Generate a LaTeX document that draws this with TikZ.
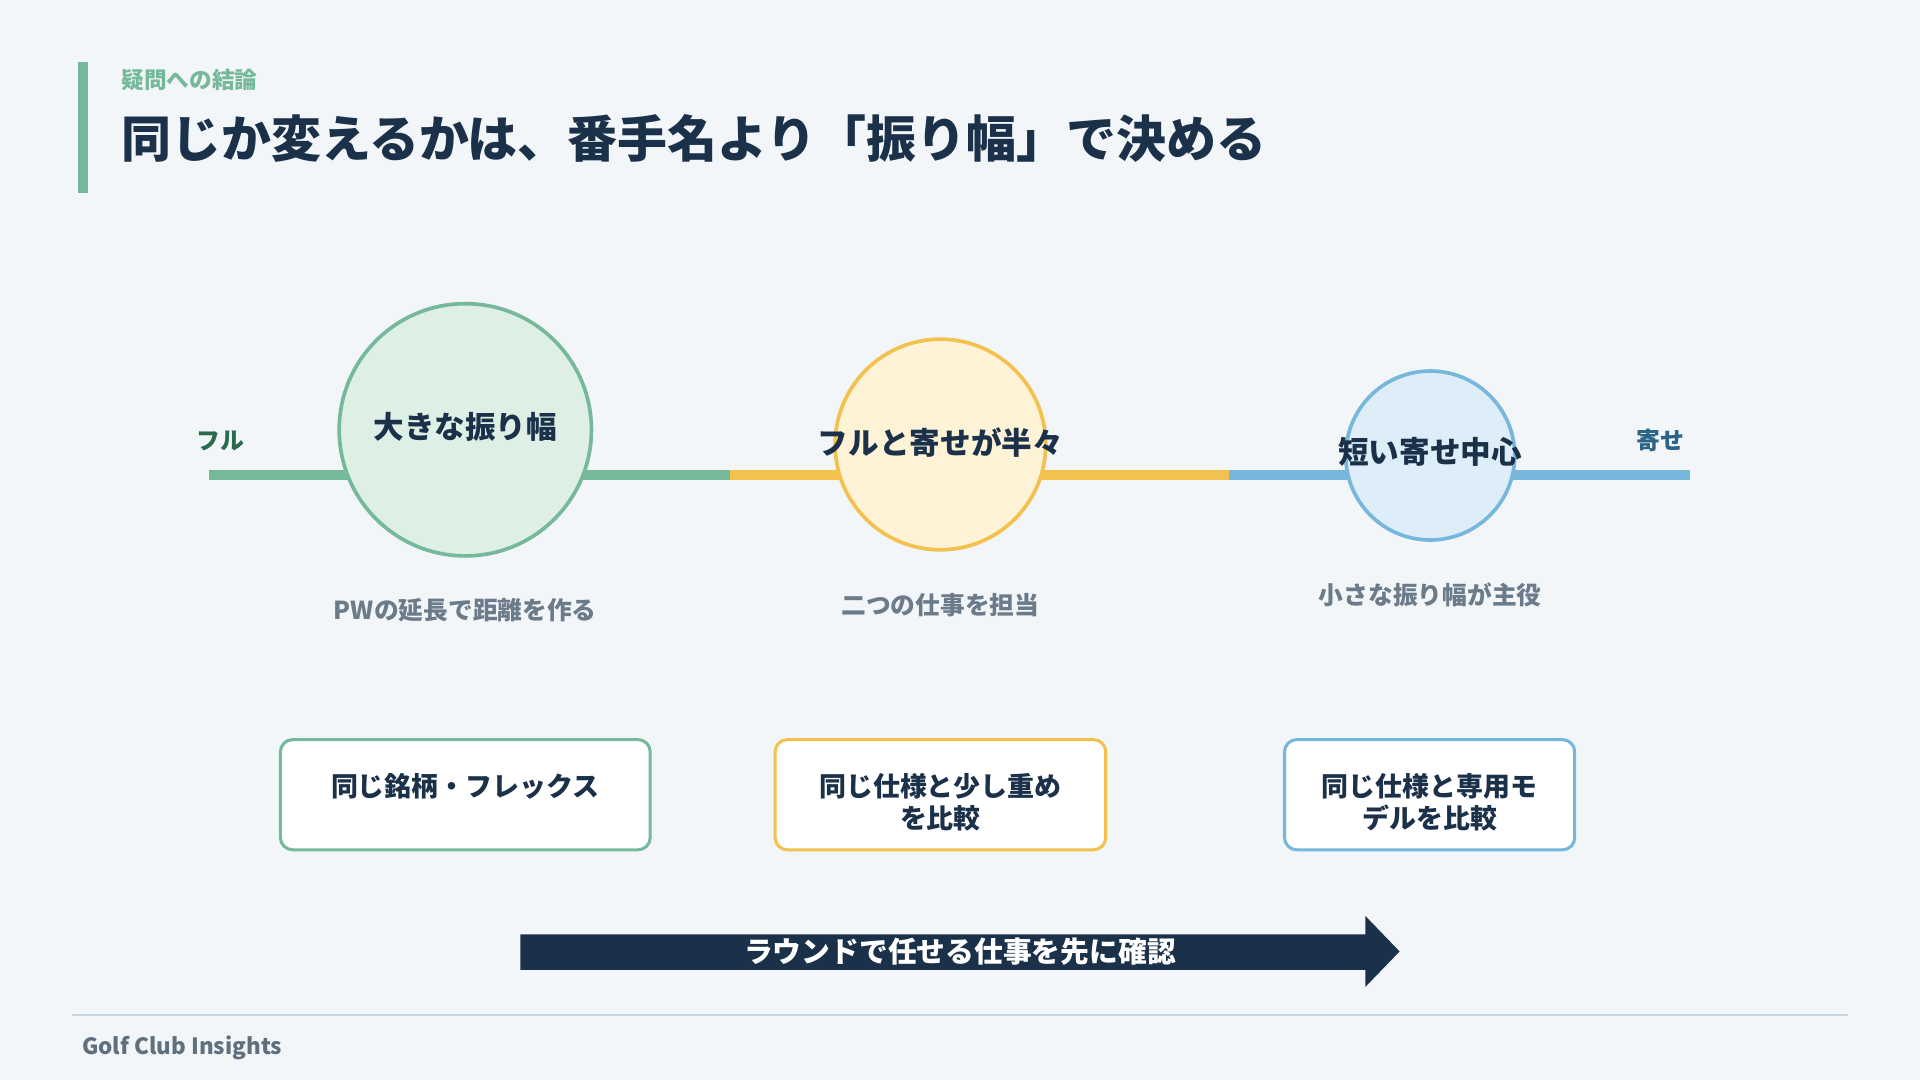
\documentclass[tikz,border=0pt]{standalone}
\usepackage{fontspec}
\setmainfont{Noto Sans CJK JP}
\usetikzlibrary{positioning}
\definecolor{bgc}{HTML}{F2F6F9}
\definecolor{navy}{HTML}{1B3049}
\definecolor{gline}{HTML}{76B99A}
\definecolor{gfill}{HTML}{DEF0E6}
\definecolor{yline}{HTML}{F2C14E}
\definecolor{yfill}{HTML}{FFF3D7}
\definecolor{bline}{HTML}{78B7DC}
\definecolor{bfill}{HTML}{DDEEF8}
\definecolor{gtext}{HTML}{2A6B4E}
\definecolor{btext}{HTML}{2C6488}
\definecolor{graytext}{HTML}{6B7B8A}
\definecolor{footline}{HTML}{C9D5DE}
\definecolor{foottext}{HTML}{5F6F7E}
\tikzset{
  seg/.style={line width=8pt, line cap=butt},
  stage/.style={circle, line width=3pt, inner sep=0pt},
  stagetxt/.style={font=\fontsize{25}{30}\selectfont\bfseries, text=navy, inner sep=0pt},
  desc/.style={font=\fontsize{20.2}{24}\selectfont\bfseries, text=graytext, inner sep=0pt},
  endtxt/.style={font=\fontsize{19.5}{24}\selectfont\bfseries, inner sep=0pt},
  cardbox/.style={rectangle, rounded corners=10pt, line width=2.5pt, fill=white, minimum height=90pt, inner sep=0pt},
  cardtxt/.style={align=center, font=\fontsize{22}{26}\selectfont\bfseries, text=navy, inner sep=0pt},
}
\begin{document}
\begin{tikzpicture}[x=1pt,y=-1pt]
\fill[bgc] (0,0) rectangle (1568,882);
\useasboundingbox (0,0) rectangle (1568,882);
% header
\fill[gline] (64,51) rectangle (72,158);
\node[anchor=west, inner sep=0pt, font=\fontsize{18.5}{22}\selectfont\bfseries, text=gline] (sub) at (99,65) {疑問への結論};
\node[anchor=west, inner sep=0pt, font=\fontsize{40.8}{48}\selectfont\bfseries, text=navy] (title) at (99,113) {同じか変えるかは、番手名より「振り幅」で決める};
% scale line
\coordinate (l0) at (171,388);
\coordinate (l1) at (596,388);
\coordinate (l2) at (1004,388);
\coordinate (l3) at (1380,388);
\draw[seg, gline] (l0) -- (l1);
\draw[seg, yline] (l1) -- (l2);
\draw[seg, bline] (l2) -- (l3);
\node[endtxt, text=gtext] (full) at (180,360) {フル};
\node[endtxt, text=btext] (yose) at (1356,360) {寄せ};
% stages
\node[stage, draw=gline, fill=gfill, minimum size=206pt] (c1) at (380,351) {};
\node[stage, draw=yline, fill=yfill, minimum size=172pt] (c2) at (768,363) {};
\node[stage, draw=bline, fill=bfill, minimum size=138pt] (c3) at (1168,372) {};
\node[stagetxt] (t1) at (380,349) {大きな振り幅};
\node[stagetxt] (t2) at (768,361) {フルと寄せが半々};
\node[stagetxt] (t3) at (1168,369) {短い寄せ中心};
\node[desc] (d1) at (380,498) {PWの延長で距離を作る};
\node[desc] (d2) at (768,494) {二つの仕事を担当};
\node[desc] (d3) at (1168,486) {小さな振り幅が主役};
% cards
\node[cardbox, draw=gline, minimum width=302pt] (b1) at (380,649) {};
\node[cardbox, draw=yline, minimum width=270pt] (b2) at (768,649) {};
\node[cardbox, draw=bline, minimum width=237pt] (b3) at (1167.5,649) {};
\node[cardtxt] (bt1) at (380,642) {同じ銘柄・フレックス};
\node[cardtxt] (bt2) at (768,655) {同じ仕様と少し重め\\を比較};
\node[cardtxt] (bt3) at (1167.5,655) {同じ仕様と専用モ\\デルを比較};
% arrow
\fill[navy] (425,763) -- (1115,763) -- (1115,748) -- (1143,777) -- (1115,806) -- (1115,792) -- (425,792) -- cycle;
\node[inner sep=0pt, font=\fontsize{23.5}{26}\selectfont\bfseries, text=white] (arrtxt) at (784,777) {ラウンドで任せる仕事を先に確認};
% footer
\coordinate (f0) at (59,829);
\coordinate (f1) at (1509,829);
\draw[footline, line width=1.5pt] (f0) -- (f1);
\node[anchor=west, inner sep=0pt, font=\fontsize{18.3}{22}\selectfont\bfseries, text=foottext] (foot) at (67,856) {Golf Club Insights};
\end{tikzpicture}
\end{document}
